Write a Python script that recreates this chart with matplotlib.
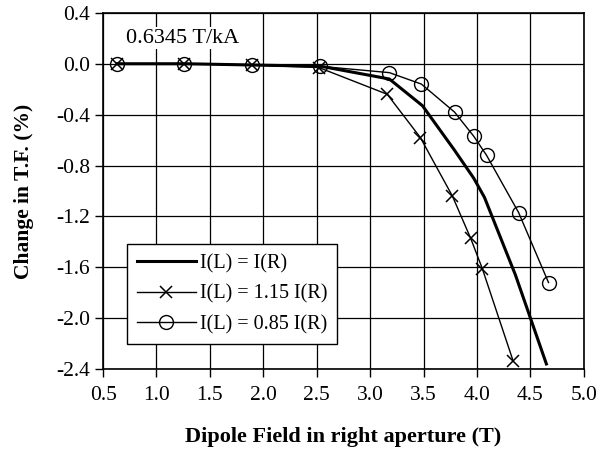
import matplotlib
matplotlib.use("Agg")
import matplotlib.pyplot as plt

plt.rcParams['font.family'] = ['Liberation Serif', 'DejaVu Serif']

# data
x_equal = [0.63, 1.27, 1.90, 2.54, 3.18, 3.49, 3.79, 3.97, 4.07, 4.36, 4.65]
y_equal = [0.0, 0.0, -0.01, -0.02, -0.12, -0.33, -0.68, -0.90, -1.05, -1.66, -2.36]

x_high = [0.63, 1.26, 1.89, 2.52, 3.16, 3.47, 3.77, 3.94, 4.05, 4.34]
y_high = [0.0, 0.0, -0.01, -0.03, -0.24, -0.58, -1.04, -1.37, -1.61, -2.34]

x_low = [0.63, 1.26, 1.89, 2.53, 3.18, 3.48, 3.79, 3.97, 4.09, 4.39, 4.67]
y_low = [0.0, 0.0, -0.01, -0.02, -0.07, -0.16, -0.38, -0.57, -0.72, -1.17, -1.72]

x_ticks = [0.5, 1.0, 1.5, 2.0, 2.5, 3.0, 3.5, 4.0, 4.5, 5.0]
y_ticks = [0.4, 0.0, -0.4, -0.8, -1.2, -1.6, -2.0, -2.4]

fig = plt.figure(figsize=(6.1, 4.59), dpi=100)
ax = fig.add_axes([0.169, 0.196, 0.788, 0.776])

ax.plot(x_equal, y_equal, color='black', lw=2.2, label='I(L) = I(R)')
ax.plot(x_high, y_high, color='black', lw=1.0, marker='x', ms=9, mew=1.1,
        label='I(L) = 1.15 I(R)')
ax.plot(x_low, y_low, color='black', lw=1.0, marker='o', ms=10, mew=1.0,
        mfc='none', label='I(L) = 0.85 I(R)')

ax.set_xlim(0.5, 5.0)
ax.set_ylim(-2.4, 0.4)
ax.set_xticks(x_ticks)
ax.set_yticks(y_ticks)
ax.set_xticklabels([f"{v:.1f}" for v in x_ticks])
ax.set_yticklabels([f"{v:.1f}" for v in y_ticks])
ax.tick_params(direction='out', length=6, width=1, labelsize=15.5, color='black')
ax.tick_params(axis='x', pad=6)
ax.grid(True, color='black', lw=0.9)
ax.set_axisbelow(True)
for s in ax.spines.values():
    s.set_linewidth(1.2)

ax.set_xlabel('Dipole Field in right aperture (T)', fontsize=16,
              fontweight='bold', labelpad=16)
ax.set_ylabel('Change in T.F. (%)', fontsize=15.5, fontweight='bold', labelpad=16)

ax.text(0.71, 0.2, '0.6345 T/kA', fontsize=16, ha='left', va='center',
        bbox=dict(facecolor='white', edgecolor='none', pad=1))

leg = ax.legend(loc='lower left', bbox_to_anchor=(0.05, 0.07), borderaxespad=0,
                fontsize=14.5, fancybox=False, framealpha=1, edgecolor='black',
                handlelength=2.9, handletextpad=0.2, labelspacing=0.55,
                borderpad=0.5)
leg.get_frame().set_linewidth(1.0)

fig.savefig('out.png', dpi=100)
